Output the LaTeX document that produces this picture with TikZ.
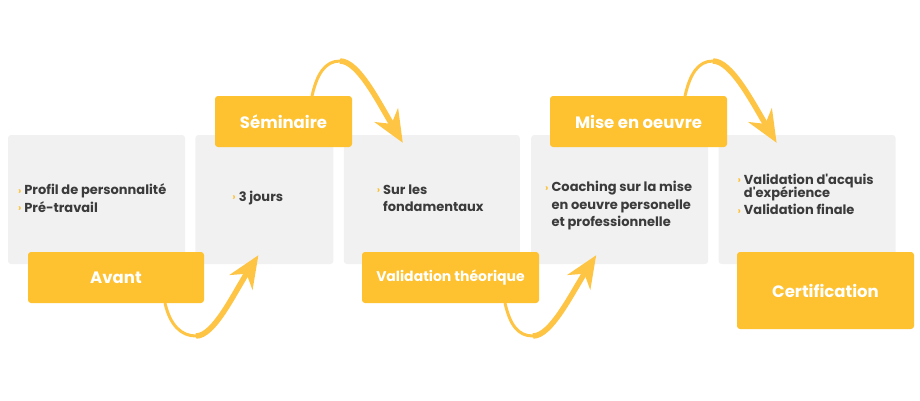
\documentclass[tikz,border=0pt]{standalone}
\usepackage{fontspec}
\setmainfont{Poppins}
\usetikzlibrary{arrows.meta,positioning}
\definecolor{gold}{HTML}{FEC12F}
\definecolor{goldarrow}{HTML}{FEC545}
\definecolor{panelgrey}{HTML}{F1F1F1}
\definecolor{ink}{HTML}{3B3B3B}
\newcommand{\bul}{\textcolor{gold}{\fontsize{10}{10}\selectfont\raisebox{0.5pt}{›}}}
\tikzset{
  panel/.style={fill=panelgrey, rounded corners=3pt, minimum width=#1, minimum height=129pt, inner sep=0pt},
  stage/.style={fill=gold, rounded corners=3pt, minimum width=#1, minimum height=51pt, inner sep=0pt,
    text=white, font=\fontsize{16.5}{18}\selectfont\bfseries},
  item/.style={anchor=west, inner sep=0pt, text=ink, font=\fontsize{13}{17.5}\selectfont\bfseries},
  flowtail/.style={goldarrow, line width=3pt},
  flow/.style={goldarrow, line width=5.5pt, -{Stealth[length=32pt,width=27pt,inset=10pt]}}
}
\begin{document}
\begin{tikzpicture}[x=1pt,y=-1pt,node distance=10pt]
\useasboundingbox (0,0) rectangle (920,400);
% grey panels
\node[panel=177pt] (box1) at (96.5,199.5) {};
\node[panel=138pt, right=of box1] (box2) {};
\node[panel=176pt, right=of box2] (box3) {};
\node[panel=177pt, right=11pt of box3] (box4) {};
\node[panel=177pt, right=of box4] (box5) {};
% panel texts
\node[item] (txt1) at ([shift={(10,0.5)}]box1.west) {\begin{tabular}{@{}l@{\hspace{3pt}}l@{}}
  \bul & Profil de personnalité\\ \bul & Pré-travail\end{tabular}};
\node[item] (txt2) at ([shift={(37,-1.5)}]box2.west) {\bul\hspace{3pt}3 jours};
\node[item] (txt3) at ([shift={(33,0)}]box3.west) {\begin{tabular}{@{}l@{\hspace{3pt}}l@{}}
  \bul & Sur les\\ & fondamentaux\end{tabular}};
\node[item] (txt4) at ([shift={(14,6)}]box4.west) {\begin{tabular}{@{}l@{\hspace{3pt}}l@{}}
  \bul & Coaching sur la mise\\ & en oeuvre personelle\\ & et professionnelle\end{tabular}};
\node[item] (txt5) at ([shift={(19,-3.5)}]box5.west) {\begin{tabular}{@{}l@{\hspace{3pt}}l@{}}
  \bul & Validation d\textquotesingle acquis\\[-4.5pt] & d\textquotesingle expérience\\ \bul & Validation finale\end{tabular}};
% stage centres, arrow ends
\path (116,277.5) coordinate (c-avant) (283.5,121.5) coordinate (c-sem)
      (450.5,277.5) coordinate (c-val) (638.5,121.5) coordinate (c-mise);
\coordinate (tail1) at ([shift={(49,25.5)}]c-avant);
\coordinate (tail2) at ([shift={(28.5,-25.5)}]c-sem);
\coordinate (tail3) at ([shift={(54.5,25.5)}]c-val);
\coordinate (tail4) at ([shift={(46.5,-25.5)}]c-mise);
\coordinate (bend1) at ([shift={(31,33)}]tail1);
\coordinate (bend2) at ([shift={(28,-35)}]tail2);
\coordinate (bend3) at ([shift={(28,33)}]tail3);
\coordinate (bend4) at ([shift={(28,-35)}]tail4);
\coordinate (tip1) at ([shift={(-6,-9)}]box2.south);
\coordinate (tip2) at ([shift={(-29,8)}]box3.north);
\coordinate (tip3) at ([shift={(-23.5,-9)}]box4.south);
\coordinate (tip4) at ([shift={(-30.5,8)}]box5.north);
% arrows
\draw[flowtail] (tail1) .. controls +(5,22) and +(-15,0) .. (bend1);
\draw[flow] (bend1) .. controls +(18,0) and +(-25,39) .. (tip1);
\draw[flowtail] (tail2) .. controls +(5,-22) and +(-15,0) .. (bend2);
\draw[flow] (bend2) .. controls +(18,0) and +(-25,-42) .. (tip2);
\draw[flowtail] (tail3) .. controls +(5,22) and +(-15,0) .. (bend3);
\draw[flow] (bend3) .. controls +(18,0) and +(-25,39) .. (tip3);
\draw[flowtail] (tail4) .. controls +(5,-22) and +(-15,0) .. (bend4);
\draw[flow] (bend4) .. controls +(18,0) and +(-25,-42) .. (tip4);
% yellow stage boxes
\node[stage=176pt] (avant) at (c-avant) {Avant};
\node[stage=137pt] (seminaire) at (c-sem) {Séminaire};
\node[stage=177pt, font=\fontsize{14}{16}\selectfont\bfseries] (valtheo) at (c-val) {Validation théorique};
\node[stage=177pt] (mise) at (c-mise) {Mise en oeuvre};
\node[stage=177pt, minimum height=77pt] (certif) at (825.5,290.5) {Certification};
\end{tikzpicture}
\end{document}
